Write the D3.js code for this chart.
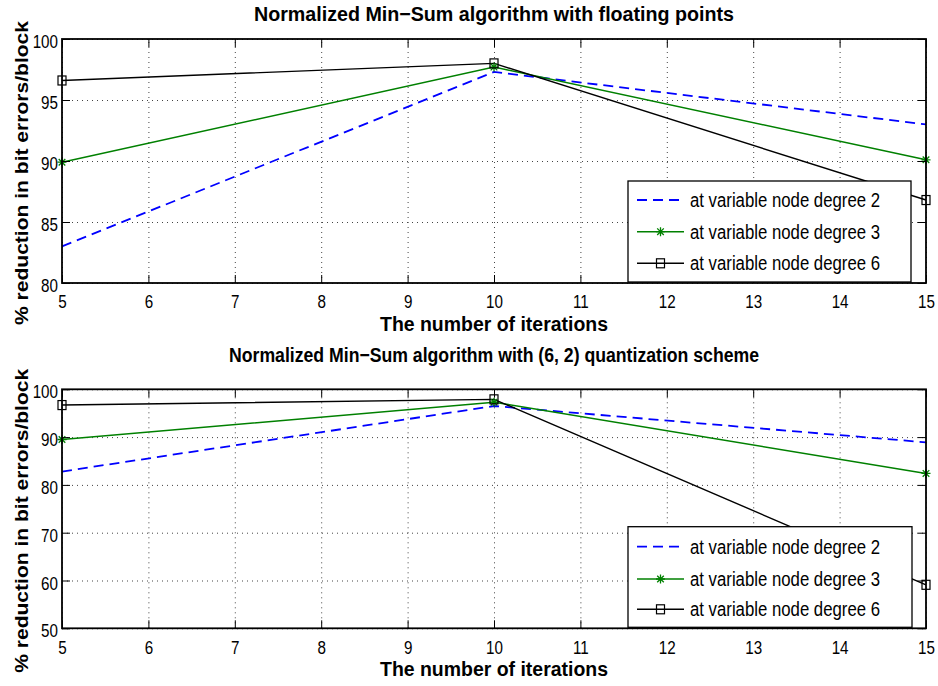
<!DOCTYPE html>
<html>
<head>
<meta charset="utf-8">
<script src="https://cdn.jsdelivr.net/npm/d3@7"></script>
<style>
  html, body { margin: 0; padding: 0; background: #fff; }
  svg { display: block; }
  text { font-family: "Liberation Sans", Arial, Helvetica, sans-serif; fill: #000; }
</style>
</head>
<body>
<svg id="fig" width="938" height="686"></svg>
<script>
// Iterations on the x axis
const iterations = [5, 10, 15];
const xTicks = [5, 6, 7, 8, 9, 10, 11, 12, 13, 14, 15];

// Panel 1: floating point
const floatDeg2 = [83.0, 97.3, 93.0];
const floatDeg3 = [89.9, 97.7, 90.1];
const floatDeg6 = [96.6, 98.0, 86.8];
const floatYTicks = [80, 85, 90, 95, 100];

// Panel 2: (6, 2) quantization
const quantDeg2 = [82.8, 96.5, 88.9];
const quantDeg3 = [89.5, 97.3, 82.4];
const quantDeg6 = [96.7, 97.9, 59.1];
const quantYTicks = [50, 60, 70, 80, 90, 100];

const seriesNames = ["at variable node degree 2", "at variable node degree 3", "at variable node degree 6"];
const titles = [
  "Normalized Min\u2212Sum algorithm with floating points",
  "Normalized Min\u2212Sum algorithm with (6, 2) quantization scheme"
];
const xLabel = "The number of iterations";
const yLabel = "% reduction in bit errors/block";

const svg = d3.select("#fig");
const SX = 0.8;   // horizontal squeeze of the narrow figure font

const styles = [
  { color: "#0000ff", dash: "10,6", width: 1.8, marker: null },
  { color: "#008000", dash: null, width: 1.5, marker: "star" },
  { color: "#000000", dash: null, width: 1.4, marker: "square" }
];

function drawMarker(g, type, x, y, color) {
  if (type === "square") {
    g.append("rect").attr("x", x - 4).attr("y", y - 4.5).attr("width", 8).attr("height", 9)
      .attr("fill", "none").attr("stroke", color).attr("stroke-width", 1.2);
  } else if (type === "star") {
    const r = 4.5, d = 3.3;
    const p = `M${x - r},${y}L${x + r},${y}M${x},${y - r}L${x},${y + r}` +
              `M${x - d},${y - d}L${x + d},${y + d}M${x - d},${y + d}L${x + d},${y - d}`;
    g.append("path").attr("d", p).attr("stroke", color).attr("stroke-width", 1.3).attr("fill", "none");
  }
}

function panel(cfg) {
  const { top, bottom, left, right, yDomain, yTicks, data, title, titleY, titleLen, legend } = cfg;
  const x = d3.scaleLinear().domain([5, 15]).range([left, right]);
  const y = d3.scaleLinear().domain(yDomain).range([bottom, top]);
  const g = svg.append("g");

  // dotted grid
  const grid = g.append("g").attr("class", "grid");
  grid.append("g").attr("transform", `translate(0,${bottom})`)
    .call(d3.axisBottom(x).tickValues(xTicks).tickSize(-(bottom - top)).tickFormat(""))
    .call(s => s.select(".domain").remove())
    .call(s => s.selectAll("line").attr("stroke", "#444").attr("stroke-dasharray", "1,4"));
  grid.append("g").attr("transform", `translate(${left},0)`)
    .call(d3.axisLeft(y).tickValues(yTicks).tickSize(-(right - left)).tickFormat(""))
    .call(s => s.select(".domain").remove())
    .call(s => s.selectAll("line").attr("stroke", "#444").attr("stroke-dasharray", "1,4"));

  // series
  const line = d3.line().x((d, i) => x(iterations[i])).y(d => y(d));
  data.forEach((vals, k) => {
    const st = styles[k];
    g.append("path").datum(vals).attr("d", line).attr("fill", "none")
      .attr("stroke", st.color).attr("stroke-width", st.width)
      .attr("stroke-dasharray", st.dash);
  });
  data.forEach((vals, k) => {
    const st = styles[k];
    if (st.marker) vals.forEach((v, i) => drawMarker(g, st.marker, x(iterations[i]), y(v), st.color));
  });

  // axes with inward ticks on all four sides
  const tick = 8;
  const ax = g.append("g");
  ax.append("g").attr("transform", `translate(0,${bottom})`)
    .call(d3.axisBottom(x).tickValues(xTicks).tickSizeInner(-tick).tickSizeOuter(0).tickPadding(12))
    .call(s => s.selectAll("text").attr("font-size", 19).attr("transform", `scale(${SX},1)`)
      .attr("font-family", "Liberation Sans, Arial, sans-serif"));
  ax.append("g").attr("transform", `translate(0,${top})`)
    .call(d3.axisTop(x).tickValues(xTicks).tickSizeInner(-tick).tickSizeOuter(0).tickFormat(""));
  ax.append("g").attr("transform", `translate(${left},0)`)
    .call(d3.axisLeft(y).tickValues(yTicks).tickSizeInner(-tick).tickSizeOuter(0))
    .call(s => s.selectAll("text").attr("font-size", 19).attr("x", 0).attr("dy", "0.45em")
      .attr("transform", `translate(-4,0) scale(${SX},1)`)
      .attr("font-family", "Liberation Sans, Arial, sans-serif"));
  ax.append("g").attr("transform", `translate(${right},0)`)
    .call(d3.axisRight(y).tickValues(yTicks).tickSizeInner(-tick).tickSizeOuter(0).tickFormat(""));
  ax.selectAll(".domain").remove();
  ax.selectAll("line").attr("stroke", "#000").attr("stroke-width", 1);
  g.append("rect").attr("x", left).attr("y", top).attr("width", right - left).attr("height", bottom - top)
    .attr("fill", "none").attr("stroke", "#000").attr("stroke-width", 1.8);

  // title and axis labels
  const cx = (left + right) / 2;
  g.append("text").attr("x", cx).attr("y", titleY).attr("text-anchor", "middle")
    .attr("font-size", 20).attr("font-weight", "bold")
    .attr("textLength", titleLen).attr("lengthAdjust", "spacingAndGlyphs").text(title);
  g.append("text").attr("x", cx).attr("y", bottom + 48).attr("text-anchor", "middle")
    .attr("font-size", 20).attr("font-weight", "bold")
    .attr("textLength", 228).attr("lengthAdjust", "spacingAndGlyphs").text(xLabel);
  const yc = (top + bottom) / 2 + 12;
  g.append("text").attr("transform", `translate(27.5,${yc}) rotate(-90)`).attr("text-anchor", "middle")
    .attr("font-size", 18).attr("font-weight", "bold")
    .attr("textLength", 304).attr("lengthAdjust", "spacingAndGlyphs").text(yLabel);

  // legend
  const lg = g.append("g");
  lg.append("rect").attr("x", legend.x).attr("y", legend.y).attr("width", legend.w).attr("height", legend.h)
    .attr("fill", "#fff").attr("stroke", "#000").attr("stroke-width", 1.3);
  seriesNames.forEach((name, k) => {
    const st = styles[k];
    const ry = legend.rows[k];
    lg.append("line").attr("x1", legend.x + 9).attr("x2", legend.x + 56).attr("y1", ry).attr("y2", ry)
      .attr("stroke", st.color).attr("stroke-width", st.width).attr("stroke-dasharray", st.dash);
    if (st.marker) drawMarker(lg, st.marker, legend.x + 32.5, ry, st.color);
    lg.append("text").attr("x", legend.x + 62).attr("y", ry + 7).attr("font-size", 19.5)
      .attr("textLength", 190).attr("lengthAdjust", "spacingAndGlyphs").text(name);
  });
}

panel({
  top: 39, bottom: 283, left: 62, right: 926,
  yDomain: [80, 100], yTicks: floatYTicks,
  data: [floatDeg2, floatDeg3, floatDeg6],
  title: titles[0], titleY: 20.7, titleLen: 480,
  legend: { x: 628, y: 181, w: 283, h: 101, rows: [200, 231.7, 263.3] }
});
panel({
  top: 389.3, bottom: 628.3, left: 62, right: 926,
  yDomain: [50, 100], yTicks: quantYTicks,
  data: [quantDeg2, quantDeg3, quantDeg6],
  title: titles[1], titleY: 362, titleLen: 530,
  legend: { x: 628, y: 526.7, w: 284, h: 100.6, rows: [546.7, 579, 609.3] }
});
</script>
</body>
</html>
